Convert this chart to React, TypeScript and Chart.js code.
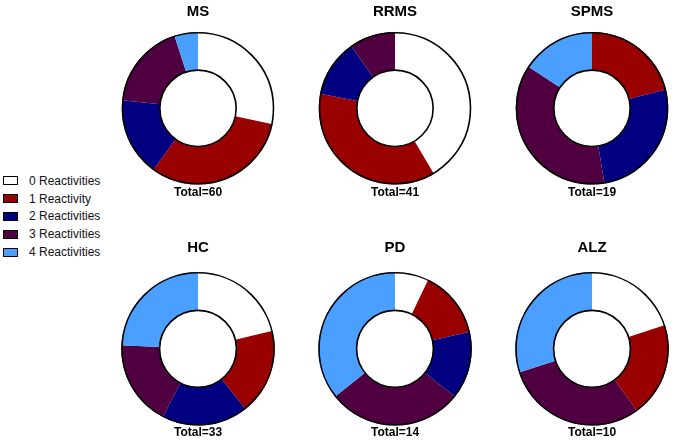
import React, { useEffect, useRef } from "react";
import { Chart, registerables } from "chart.js";

Chart.register(...registerables);

const categories = ["0 Reactivities", "1 Reactivity", "2 Reactivities", "3 Reactivities", "4 Reactivities"];
const colors = ["#FFFFFF", "#990000", "#000080", "#500040", "#4B9FFF"];

const groups = ["MS", "RRMS", "SPMS", "HC", "PD", "ALZ"];
const msValues = [17, 19, 10, 11, 3];
const rrmsValues = [17, 15, 5, 4, 0];
const spmsValues = [0, 4, 5, 7, 3];
const hcValues = [7, 6, 6, 6, 8];
const pdValues = [1, 2, 2, 4, 5];
const alzValues = [2, 2, 0, 3, 3];
const totals = [60, 41, 19, 33, 14, 10];
const groupValues = [msValues, rrmsValues, spmsValues, hcValues, pdValues, alzValues];

const ringOutline = {
  id: "ringOutline",
  afterDatasetsDraw(chart: any) {
    const meta = chart.getDatasetMeta(0);
    const arc = meta.data.find((a: any) => a && a.outerRadius > 0);
    if (!arc) return;
    const ctx = chart.ctx;
    ctx.save();
    ctx.strokeStyle = "#000";
    ctx.lineWidth = 1.6;
    ctx.beginPath();
    ctx.arc(arc.x, arc.y, arc.outerRadius - 0.8, 0, Math.PI * 2);
    ctx.stroke();
    ctx.beginPath();
    ctx.arc(arc.x, arc.y, arc.innerRadius, 0, Math.PI * 2);
    ctx.stroke();
    ctx.restore();
  },
};

type DonutProps = {
  idx: number;
  left: number;
  top: number;
  width: number;
  height: number;
  titlePad: { top: number; bottom: number };
  subPad: { top: number; bottom: number };
};

function Donut({ idx, left, top, width, height, titlePad, subPad }: DonutProps) {
  const ref = useRef<HTMLCanvasElement | null>(null);
  useEffect(() => {
    if (!ref.current) return;
    const chart = new Chart(ref.current, {
      type: "doughnut",
      data: {
        labels: categories,
        datasets: [
          {
            data: groupValues[idx],
            backgroundColor: colors,
            borderWidth: 0,
          },
        ],
      },
      options: {
        responsive: false,
        maintainAspectRatio: false,
        animation: false,
        cutout: "50%",
        layout: { padding: 0 },
        plugins: {
          legend: { display: false },
          tooltip: { enabled: false },
          title: {
            display: true,
            text: groups[idx],
            color: "#000",
            font: { family: "Liberation Sans, Arial, sans-serif", size: 15, weight: "bold", lineHeight: 1.2 },
            padding: titlePad,
          },
          subtitle: {
            display: true,
            position: "bottom",
            text: "Total=" + totals[idx],
            color: "#000",
            font: { family: "Liberation Sans, Arial, sans-serif", size: 12, weight: "bold", lineHeight: 1.2 },
            padding: subPad,
          },
        },
      },
      plugins: [ringOutline],
    });
    return () => chart.destroy();
  }, [idx]);
  return (
    <canvas
      ref={ref}
      width={width}
      height={height}
      style={{ position: "absolute", left, top, width, height }}
    />
  );
}

export default function App() {
  const colCenters = [198, 395, 592];
  const w = 190;
  return (
    <div
      style={{
        position: "absolute",
        left: 0,
        top: 0,
        width: 675,
        height: 440,
        overflow: "hidden",
        background: "#fff",
        fontFamily: "Liberation Sans, Arial, sans-serif",
      }}
    >
      {groups.map((g, i) => {
        const row = Math.floor(i / 3);
        const col = i % 3;
        const left = colCenters[col] - w / 2;
        if (row === 0) {
          return (
            <Donut
              key={g}
              idx={i}
              left={left}
              top={0}
              width={w}
              height={202}
              titlePad={{ top: 3, bottom: 11 }}
              subPad={{ top: 1, bottom: 2 }}
            />
          );
        }
        return (
          <Donut
            key={g}
            idx={i}
            left={left}
            top={230}
            width={w}
            height={210}
            titlePad={{ top: 9, bottom: 15 }}
            subPad={{ top: 0, bottom: 0 }}
          />
        );
      })}
      <div style={{ position: "absolute", left: 3, top: 172 }}>
        {categories.map((c, i) => (
          <div
            key={c}
            style={{ display: "flex", alignItems: "center", height: 17.8, fontSize: 12, color: "#111" }}
          >
            <div
              style={{
                width: 13,
                height: 7,
                background: colors[i],
                border: "1px solid #000",
                marginRight: 11,
              }}
            />
            <span>{c}</span>
          </div>
        ))}
      </div>
    </div>
  );
}
